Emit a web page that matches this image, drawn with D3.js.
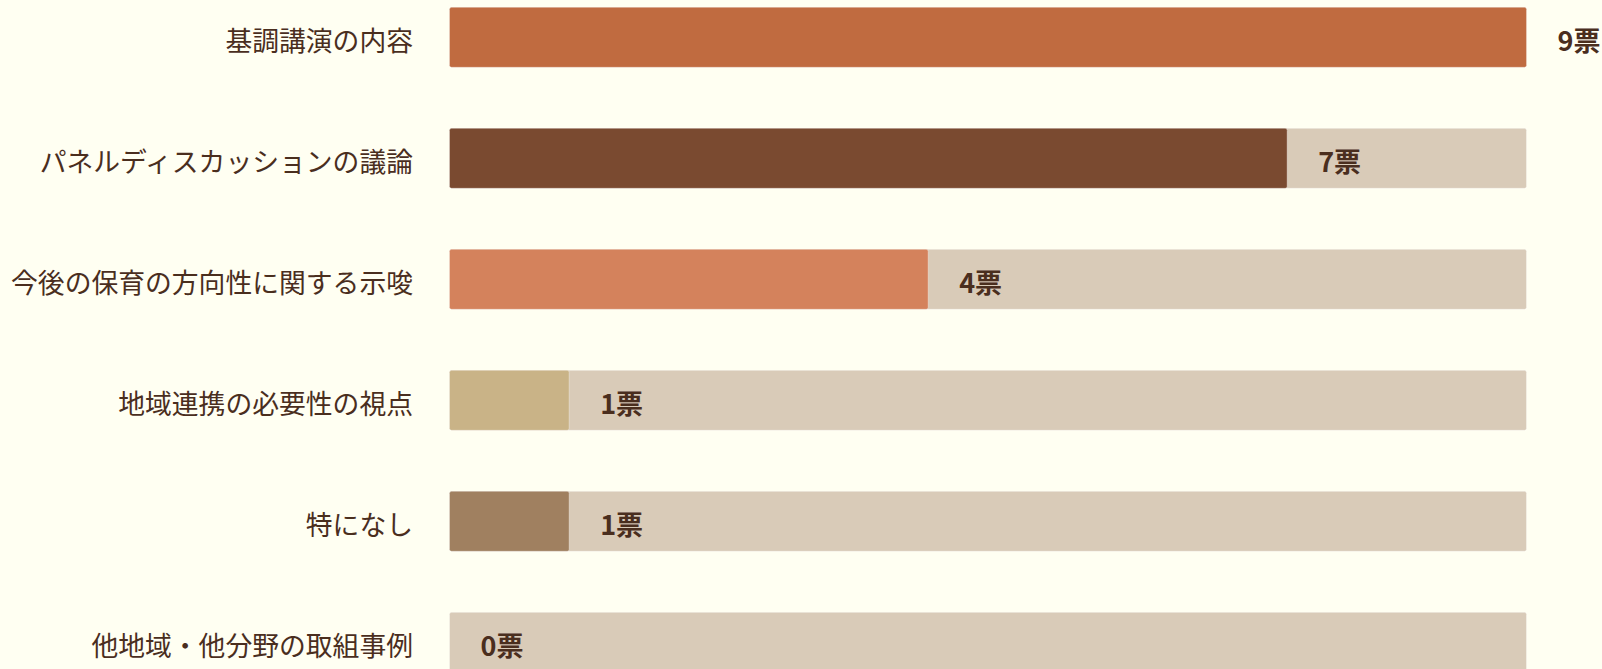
<!DOCTYPE html>
<html lang="ja">
<head>
<meta charset="utf-8">
<script src="https://cdn.jsdelivr.net/npm/d3@7"></script>
<style>
  html, body { margin: 0; padding: 0; background: #fffff2; }
  svg { display: block; }
</style>
</head>
<body>
<svg id="chart" width="1602" height="669"></svg>
<script>
// Vote counts per session topic
const categories = [
  "基調講演の内容",
  "パネルディスカッションの議論",
  "今後の保育の方向性に関する示唆",
  "地域連携の必要性の視点",
  "特になし",
  "他地域・他分野の取組事例"
];
const votes = [9, 7, 4, 1, 1, 0];
const barColors = ["#c06b40", "#7a4a30", "#d4825c", "#c9b387", "#a08060", "#d9cbb8"];
const unitLabel = "票";
const maxVotes = 9;

const svg = d3.select("#chart");

const x = d3.scaleLinear()
  .domain([0, maxVotes])
  .range([449.5, 1526.5]);

const y = d3.scaleBand()
  .domain(categories)
  .range([7.3, 672.3])
  .paddingInner(61 / 121)
  .paddingOuter(0)
  .align(0);

const rows = categories.map((c, i) => ({ cat: c, v: votes[i], color: barColors[i] }));

const g = svg.append("g");

// track behind each bar
g.selectAll("rect.track")
  .data(rows)
  .join("rect")
  .attr("class", "track")
  .attr("x", x(0))
  .attr("y", d => y(d.cat))
  .attr("width", x(maxVotes) - x(0))
  .attr("height", y.bandwidth())
  .attr("rx", 2)
  .attr("fill", "#d9cbb8")
  .attr("stroke", "rgba(255,255,255,0.35)")
  .attr("stroke-width", 1);

// filled portion
g.selectAll("rect.bar")
  .data(rows.filter(d => d.v > 0))
  .join("rect")
  .attr("class", "bar")
  .attr("x", x(0))
  .attr("y", d => y(d.cat))
  .attr("width", d => x(d.v) - x(0))
  .attr("height", y.bandwidth())
  .attr("rx", 2)
  .attr("fill", d => d.color)
  .attr("stroke", "rgba(255,255,255,0.35)")
  .attr("stroke-width", 1);

// category labels
g.selectAll("text.cat")
  .data(rows)
  .join("text")
  .attr("class", "cat")
  .attr("x", 413)
  .attr("y", d => y(d.cat) + y.bandwidth() / 2 + 14)
  .attr("text-anchor", "end")
  .attr("font-family", "'Noto Sans CJK JP', 'Noto Sans', sans-serif")
  .attr("font-size", 26.8)
  .attr("fill", "#4a2e1e")
  .text(d => d.cat);

// value labels
g.selectAll("text.val")
  .data(rows)
  .join("text")
  .attr("class", "val")
  .attr("x", d => x(d.v) + 31)
  .attr("y", d => y(d.cat) + y.bandwidth() / 2 + 14)
  .attr("text-anchor", "start")
  .attr("font-family", "'Noto Sans CJK JP', 'Noto Sans', sans-serif")
  .attr("font-weight", 700)
  .attr("font-size", 27)
  .attr("fill", "#4a2e1e")
  .text(d => d.v + unitLabel);
</script>
</body>
</html>
